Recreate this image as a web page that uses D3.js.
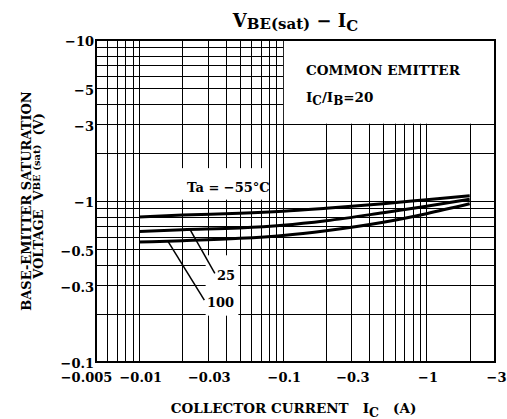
<!DOCTYPE html>
<html>
<head>
<meta charset="utf-8">
<script src="https://d3js.org/d3.v7.min.js"></script>
<style>
    body { margin: 0; background: #fff; }
    svg { display: block; font-family: "DejaVu Serif", serif; font-weight: bold; fill: #000; }
    .grid line { stroke: #000; stroke-width: 1; shape-rendering: crispEdges; }
    .grid .domain { display: none; }
    .labels .domain, .labels line { display: none; }
    .labels text { font-family: "DejaVu Serif", serif; font-size: 13px; font-weight: bold; fill: #000; }
    .frame { fill: none; stroke: #000; stroke-width: 2; }
    .curve { fill: none; stroke: #000; stroke-width: 3; }
    .leader { stroke: #000; stroke-width: 1.5; }
    .blank { fill: #fff; }
</style>
</head>
<body>
<script>
(function(){

    //collector current (A, shown negative) where the curves were read
    var current = [0.01, 0.02, 0.05, 0.1, 0.2, 0.5, 1, 2];
    //base-emitter saturation voltage (V, shown negative) for each ambient temperature
    var vMinus55 = [0.795, 0.818, 0.839, 0.864, 0.902, 0.962, 1.018, 1.078];
    var v25 = [0.647, 0.663, 0.680, 0.707, 0.754, 0.846, 0.928, 1.025];
    var v100 = [0.556, 0.567, 0.586, 0.611, 0.654, 0.738, 0.834, 0.961];

    //tick values and labels
    var xTicks = [0.005, 0.01, 0.03, 0.1, 0.3, 1, 3];
    var xTickLabels = ["−0.005", "−0.01", "−0.03", "−0.1", "−0.3", "−1", "−3"];
    var yTicks = [10, 5, 3, 1, 0.5, 0.3, 0.1];
    var yTickLabels = ["−10", "−5", "−3", "−1", "−0.5", "−0.3", "−0.1"];

    //leader lines from the 25 and 100 curves to their labels, [current, voltage]
    var leader25 = [[0.0226, 0.664], [0.0336, 0.355]];
    var leader100 = [[0.0159, 0.560], [0.0284, 0.242]];

    var width = 507,
        height = 419,
        left = 96,
        right = 495,
        top = 40,
        bottom = 362;

    var svg = d3.select("body")
        .append("svg")
        .attr("width", width)
        .attr("height", height);

    //log scales for both axes
    var x = d3.scaleLog()
        .domain([0.005, 3])
        .range([left, right]);

    var y = d3.scaleLog()
        .domain([0.1, 10])
        .range([bottom, top]);

    //full log grid: every 1..9 multiple of each decade
    svg.append("g")
        .attr("class", "grid")
        .attr("transform", "translate(0," + bottom + ")")
        .call(d3.axisBottom(x).tickValues(x.ticks()).tickSize(-(bottom - top)).tickFormat(""));

    svg.append("g")
        .attr("class", "grid")
        .attr("transform", "translate(" + left + ",0)")
        .call(d3.axisLeft(y).tickValues(y.ticks()).tickSize(-(right - left)).tickFormat(""));

    //white patches behind the legend and curve labels
    svg.append("rect")
        .attr("class", "blank")
        .attr("x", x(0.1) + 1)
        .attr("y", top + 1)
        .attr("width", right - x(0.1) - 2)
        .attr("height", y(3) - top - 1.5);

    svg.append("rect")
        .attr("class", "blank")
        .attr("x", x(0.0125))
        .attr("y", y(1.6))
        .attr("width", x(0.077) - x(0.0125))
        .attr("height", y(1.02) - y(1.6));

    svg.append("rect")
        .attr("class", "blank")
        .attr("x", x(0.029))
        .attr("y", y(0.46))
        .attr("width", x(0.049) - x(0.029))
        .attr("height", y(0.194) - y(0.46));

    //plot frame
    svg.append("rect")
        .attr("class", "frame")
        .attr("x", left)
        .attr("y", top)
        .attr("width", right - left)
        .attr("height", bottom - top);

    //tick labels
    var xAxis = svg.append("g")
        .attr("class", "labels")
        .attr("transform", "translate(0," + bottom + ")")
        .call(d3.axisBottom(x).tickValues(xTicks).tickSize(0).tickPadding(11)
            .tickFormat(function(d, i){ return xTickLabels[i]; }));
    xAxis.selectAll("text")
        .attr("dx", function(d, i){ return i == 0 ? -10 : 1; });

    svg.append("g")
        .attr("class", "labels")
        .attr("transform", "translate(" + left + ",0)")
        .call(d3.axisLeft(y).tickValues(yTicks).tickSize(0).tickPadding(2)
            .tickFormat(function(d, i){ return yTickLabels[i]; }))
        .selectAll("text")
        .attr("dy", "0.45em");

    //curves
    var line = d3.line()
        .x(function(d){ return x(d[0]); })
        .y(function(d){ return y(d[1]); })
        .curve(d3.curveMonotoneX);

    [vMinus55, v25, v100].forEach(function(series){
        svg.append("path")
            .attr("class", "curve")
            .attr("d", line(current.map(function(c, i){ return [c, series[i]]; })));
    });

    //leaders
    [leader25, leader100].forEach(function(l){
        svg.append("line")
            .attr("class", "leader")
            .attr("x1", x(l[0][0]))
            .attr("y1", y(l[0][1]))
            .attr("x2", x(l[1][0]))
            .attr("y2", y(l[1][1]));
    });

    //curve labels
    svg.append("text")
        .attr("x", 187)
        .attr("y", 191.5)
        .style("font-size", "13px")
        .text("Ta = −55°C");

    svg.append("text")
        .attr("x", 217)
        .attr("y", 280)
        .style("font-size", "13px")
        .text("25");

    svg.append("text")
        .attr("x", 207)
        .attr("y", 307)
        .style("font-size", "13px")
        .text("100");

    //legend text
    svg.append("text")
        .attr("x", 306)
        .attr("y", 75)
        .style("font-size", "13.5px")
        .text("COMMON EMITTER");

    var ratio = svg.append("text")
        .attr("x", 306)
        .attr("y", 101.5)
        .style("font-size", "13.5px");
    ratio.append("tspan").text("I");
    ratio.append("tspan").attr("dy", 3.5).style("font-size", "12px").text("C");
    ratio.append("tspan").attr("dy", -3.5).text("/I");
    ratio.append("tspan").attr("dy", 3.5).style("font-size", "12px").text("B");
    ratio.append("tspan").attr("dy", -3.5).text("=20");

    //chart title
    var title = svg.append("text")
        .attr("x", (left + right) / 2)
        .attr("y", 27)
        .attr("text-anchor", "middle")
        .style("font-size", "18px");
    title.append("tspan").text("V");
    title.append("tspan").attr("dy", 2).style("font-size", "15px").text("BE(sat)");
    title.append("tspan").attr("dy", -2).text("  −  I");
    title.append("tspan").attr("dy", 4).style("font-size", "15px").text("C");

    //x axis title
    var xTitle = svg.append("text")
        .attr("x", (left + right) / 2 - 2)
        .attr("y", 413)
        .attr("text-anchor", "middle")
        .style("font-size", "13.5px")
        .style("white-space", "pre");
    xTitle.append("tspan").text("COLLECTOR CURRENT   I");
    xTitle.append("tspan").attr("dy", 4).style("font-size", "12.5px").text("C");
    xTitle.append("tspan").attr("dy", -4).text("   (A)");

    //y axis title, two rotated lines
    svg.append("text")
        .attr("transform", "translate(31,201) rotate(-90)")
        .attr("text-anchor", "middle")
        .style("font-size", "13px")
        .text("BASE-EMITTER SATURATION");

    var yTitle = svg.append("text")
        .attr("transform", "translate(43,196) rotate(-90)")
        .attr("text-anchor", "middle")
        .style("font-size", "13px")
        .style("white-space", "pre");
    yTitle.append("tspan").text("VOLTAGE  V");
    yTitle.append("tspan").attr("dy", -3.5).style("font-size", "10px").text("BE (sat)");
    yTitle.append("tspan").attr("dy", 3.5).text("  (V)");
})();
</script>
</body>
</html>
